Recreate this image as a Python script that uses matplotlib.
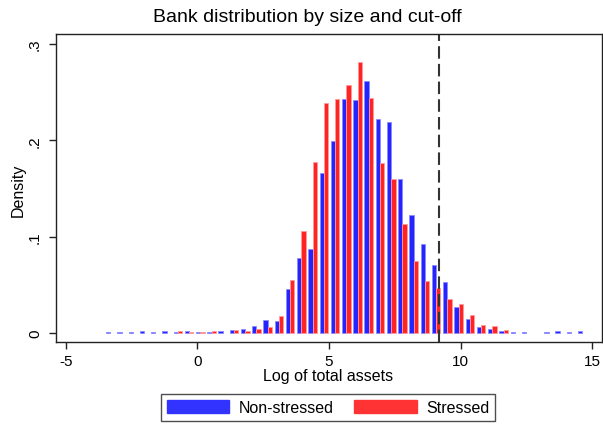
import numpy as np
import matplotlib.pyplot as plt
from matplotlib.patches import Patch

plt.rcParams['font.family'] = ['Liberation Sans', 'DejaVu Sans']
plt.rcParams['axes.unicode_minus'] = False

# histogram bins (log of total assets)
bin_left = -3.513
bin_width = 0.4266
cutoff = 9.17

non_stressed = [0.0010, 0.0010, 0.0010, 0.0020, 0.0014, 0.0020, 0.0010, 0.0024, 0.0014, 0.0014,
                0.0020, 0.0035, 0.0038, 0.0073, 0.0132, 0.0127, 0.0457, 0.0779, 0.0872, 0.1661,
                0.1997, 0.2430, 0.2420, 0.2613, 0.2222, 0.2188, 0.1596, 0.1225, 0.0924, 0.0706,
                0.0528, 0.0270, 0.0145, 0.0064, 0.0042, 0.0017, 0.0007, 0.0007, 0.0, 0.0007,
                0.0021, 0.0007, 0.0021]
stressed = [0.0, 0.0, 0.0, 0.0, 0.0, 0.0, 0.0020, 0.0010, 0.0010, 0.0020,
            0.0, 0.0030, 0.0020, 0.0040, 0.0062, 0.0177, 0.0550, 0.1059, 0.1772, 0.2388,
            0.2430, 0.2572, 0.2818, 0.2440, 0.1765, 0.1596, 0.1135, 0.0748, 0.0540, 0.0465,
            0.0358, 0.0301, 0.0192, 0.0087, 0.0069, 0.0028, 0.0, 0.0, 0.0, 0.0,
            0.0, 0.0, 0.0]

xticks = [-5, 0, 5, 10, 15]
yticks = [0, 0.1, 0.2, 0.3]
ytick_labels = ['0', '.1', '.2', '.3']

blue = '#2424ff'
red = '#ff2424'

ns = np.array(non_stressed)
st = np.array(stressed)
centers = bin_left + bin_width * (np.arange(len(ns)) + 0.5)
bw = 0.163

fig = plt.figure(figsize=(6.03, 4.27), dpi=100)
ax = fig.add_axes([56 / 603, 1 - 343 / 427, 545.5 / 603, 308 / 427])

m = ns > 0
ax.bar(centers[m] - bw / 2, ns[m], width=bw, color=blue, edgecolor='#8a8aff', linewidth=0.6)
m = st > 0
ax.bar(centers[m] + bw / 2, st[m], width=bw, color=red, edgecolor='#ff9a9a', linewidth=0.6)

ax.axvline(cutoff, color='#333333', lw=1.5, ls=(0, (6, 2.5)))

ax.set_xlim(-5.366, 15.35)
ax.set_ylim(-0.0093, 0.3105)
ax.set_xticks(xticks)
ax.set_yticks(yticks)
ax.set_yticklabels(ytick_labels, rotation=90, va='center')
ax.tick_params(direction='out', length=5, width=1, labelsize=11, color='#222222')
ax.tick_params(axis='y', pad=5)
for s in ax.spines.values():
    s.set_color('#222222')
    s.set_linewidth(1)

fig.text(307 / 603, 1 - 17 / 427, 'Bank distribution by size and cut-off', ha='center', va='center', fontsize=14)
fig.text(328 / 603, 1 - 377 / 427, 'Log of total assets', ha='center', va='center', fontsize=11.5)
fig.text(18 / 603, 1 - 190 / 427, 'Density', rotation=90, ha='center', va='center', fontsize=11.5)

handles = [Patch(facecolor='#3333ff', edgecolor='#3333ff', label='Non-stressed'),
           Patch(facecolor='#ff3333', edgecolor='#ff3333', label='Stressed')]
leg = fig.legend(handles=handles, loc='center', bbox_to_anchor=(328 / 603, 1 - 408.5 / 427), ncol=2,
                 fontsize=11.5, frameon=True, fancybox=False, edgecolor='#222222',
                 handlelength=3.9, handleheight=0.9, handletextpad=0.6, columnspacing=1.3,
                 borderpad=0.35)
leg.get_frame().set_linewidth(1)

fig.savefig('out.png', dpi=100)
